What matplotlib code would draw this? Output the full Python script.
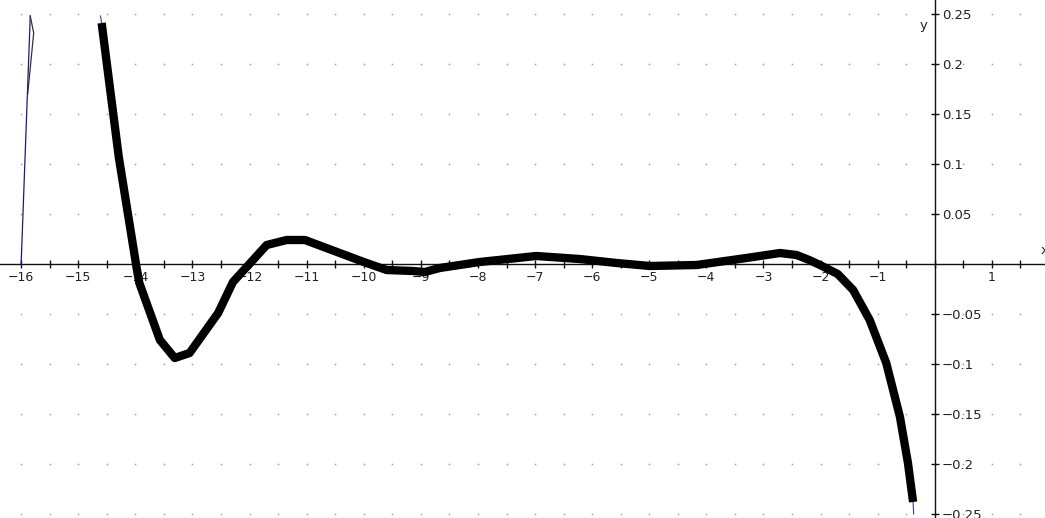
import numpy as np
import matplotlib
matplotlib.use('Agg')
import matplotlib.pyplot as plt

# 粗曲线（读图得到的点）
curve_x = [-14.59, -14.29, -13.98, -13.93, -13.57, -13.31, -13.05, -12.55, -12.29,
           -11.70, -11.35, -11.03, -10.00, -9.60, -9.14, -8.93, -8.67, -7.97, -6.98,
           -6.22, -5.57, -4.99, -4.17, -3.30, -2.71, -2.42, -2.20, -2.01, -1.70,
           -1.43, -1.14, -0.85, -0.61, -0.47, -0.38]
curve_y = [0.241, 0.107, -0.003, -0.019, -0.076, -0.094, -0.089, -0.049, -0.018,
           0.019, 0.024, 0.024, 0.002, -0.006, -0.007, -0.008, -0.004, 0.002, 0.008,
           0.005, 0.001, -0.002, -0.001, 0.006, 0.011, 0.009, 0.004, -0.001, -0.010,
           -0.026, -0.056, -0.099, -0.153, -0.199, -0.238]

# 细线端点延伸
thin_x = [-14.61] + curve_x + [-0.37]
thin_y = [0.248] + curve_y + [-0.25]

# 左边的细尖峰
spike1_x = [-16.0, -15.84]
spike1_y = [0.0, 0.248]
spike2_x = [-15.84, -15.78, -15.885]
spike2_y = [0.248, 0.231, 0.17]

x_labels = [-16, -15, -14, -13, -12, -11, -10, -9, -8, -7, -6, -5, -4, -3, -2, -1, 1]
y_labels = [0.25, 0.2, 0.15, 0.1, 0.05, -0.05, -0.1, -0.15, -0.2, -0.25]

fig = plt.figure(figsize=(10.45, 5.18), dpi=100)
ax = fig.add_axes([0, 0, 1, 1])
ax.set_xlim(-16.37, 1.93)
ax.set_ylim(-0.254, 0.264)

# 网格点
gx = np.arange(-16, 2.0, 0.5)
gy = np.arange(-0.25, 0.26, 0.05)
GX, GY = np.meshgrid(gx, gy)
ax.plot(GX.ravel(), GY.ravel(), ls='none', marker='s', markersize=1.1,
        color='#a0a0a0', mew=0, zorder=1)

# 坐标轴
ax.spines['top'].set_visible(False)
ax.spines['left'].set_visible(False)
ax.spines['bottom'].set_position(('data', 0))
ax.spines['right'].set_position(('data', 0))
for s in ['bottom', 'right']:
    ax.spines[s].set_linewidth(1.0)
    ax.spines[s].set_color('#111111')
ax.yaxis.tick_right()

ax.set_xticks(np.arange(-16, 2.0, 0.5), minor=True)
ax.set_xticks(x_labels)
ax.set_xticklabels(['\u2212%d' % -v if v < 0 else '%d' % v for v in x_labels])
ax.set_yticks(y_labels)
ax.set_yticklabels([('\u2212' if v < 0 else '') + ('%g' % abs(v)) for v in y_labels])
ax.tick_params(axis='x', which='both', direction='inout', length=6, width=1,
               color='#111111', labelsize=9, labelcolor='#222222', pad=2)
ax.tick_params(axis='y', direction='inout', length=6, width=1,
               color='#111111', labelsize=9.5, labelcolor='#222222', pad=2)

# 曲线
ax.plot(spike1_x, spike1_y, color='#1a1a80', lw=0.9, zorder=3)
ax.plot(spike2_x, spike2_y, color='#333333', lw=0.9, zorder=3)
ax.plot(thin_x, thin_y, color='#3a3aa0', lw=0.8, zorder=3)
ax.plot(curve_x, curve_y, color='black', lw=6, solid_joinstyle='round',
        solid_capstyle='butt', zorder=4)

ax.text(-0.19, 0.239, 'y', ha='center', va='center', fontsize=9.5, color='#222222')
ax.text(1.86, 0.014, 'x', ha='left', va='center', fontsize=9.5, color='#222222')

fig.savefig('out.png', dpi=100)
